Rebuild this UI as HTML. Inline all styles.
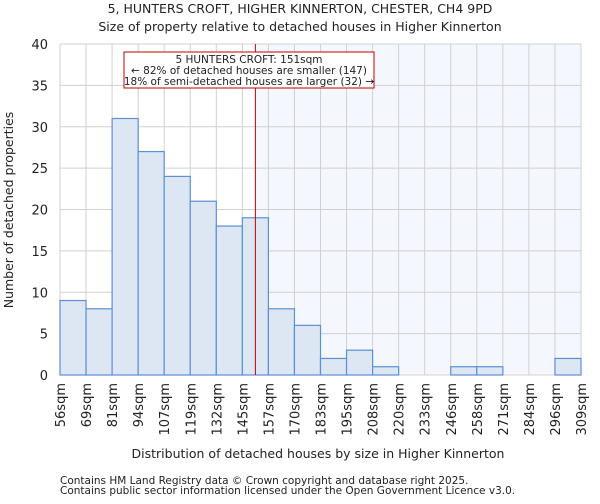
<!DOCTYPE html>
<html><head><meta charset="utf-8"><style>
body{margin:0;background:#fff;font-family:"DejaVu Sans","Liberation Sans",sans-serif;}
svg text{font-family:"DejaVu Sans","Liberation Sans",sans-serif;fill:#222;}
</style></head><body>
<svg id="chart" width="600" height="500" xmlns="http://www.w3.org/2000/svg">
<text x="300" y="13" text-anchor="middle" font-size="12.5">5, HUNTERS CROFT, HIGHER KINNERTON, CHESTER, CH4 9PD</text>
<text x="300" y="31" text-anchor="middle" font-size="12.5">Size of property relative to detached houses in Higher Kinnerton</text>
<g id="plot"></g>
<text x="318" y="458" text-anchor="middle" font-size="12.5">Distribution of detached houses by size in Higher Kinnerton</text>
<text transform="translate(13,210) rotate(-90)" text-anchor="middle" font-size="12.5">Number of detached properties</text>
<text x="60" y="484" font-size="10.5" fill="#444">Contains HM Land Registry data © Crown copyright and database right 2025.</text>
<text x="60" y="494" font-size="10.5" fill="#444">Contains public sector information licensed under the Open Government Licence v3.0.</text>
</svg>
<script>
const binLabels=["56sqm","69sqm","81sqm","94sqm","107sqm","119sqm","132sqm","145sqm","157sqm","170sqm","183sqm","195sqm","208sqm","220sqm","233sqm","246sqm","258sqm","271sqm","284sqm","296sqm","309sqm"];
const counts=[9,8,31,27,24,21,18,19,8,6,2,3,1,0,0,1,1,0,0,2];
const yTicks=[0,5,10,15,20,25,30,35,40];
const markerBin=7.5;
const NS="http://www.w3.org/2000/svg";
const g=document.getElementById('plot');
const X0=60,X1=581,Y0=375,Y1=44,YMAX=40;
const bw=(X1-X0)/counts.length;
const xs=i=>X0+i*bw;
const ys=v=>Y0-(v/YMAX)*(Y0-Y1);
function el(t,a){const e=document.createElementNS(NS,t);for(const k in a)e.setAttribute(k,a[k]);g.appendChild(e);return e;}
const mx=xs(markerBin);
let e=el('rect',{x:mx,y:Y1,width:X1-mx,height:Y0-Y1,fill:'#f4f7fd'});


yTicks.forEach(t=>{
 let l=el('line',{x1:X0,x2:X1,y1:ys(t),y2:ys(t),stroke:'#d0d0d0','stroke-width':1});
 
 
 let tx=el('text',{x:X0-12,y:ys(t)+5,'text-anchor':'end','font-size':13});
 tx.textContent=t;
 
 
});
binLabels.forEach((lab,i)=>{
 let l=el('line',{x1:xs(i),x2:xs(i),y1:Y1,y2:Y0,stroke:'#d0d0d0','stroke-width':1});
 
 
 let tx=el('text',{transform:`translate(${xs(i)+5},${Y0+8}) rotate(-90)`,'text-anchor':'end','font-size':13});
 tx.textContent=lab;
 
 
});
counts.forEach((c,i)=>{
 if(c<=0)return;
 let r=el('rect',{x:xs(i),y:ys(c),width:bw,height:Y0-ys(c),fill:'#dde6f3',stroke:'#5b8fd6','stroke-width':1.2});
 
 
});
e=el('line',{x1:mx,x2:mx,y1:Y1,y2:Y0,stroke:'#c00000','stroke-width':1});


e=el('rect',{x:124,y:52,width:250,height:36,fill:'#fff',stroke:'#c00000','stroke-width':1});


["5 HUNTERS CROFT: 151sqm","← 82% of detached houses are smaller (147)","18% of semi-detached houses are larger (32) →"].forEach((s,i)=>{
 let t=el('text',{x:249,y:63+i*11,'text-anchor':'middle','font-size':10.5});
 t.textContent=s;
 
 
});
</script>
</body></html>
